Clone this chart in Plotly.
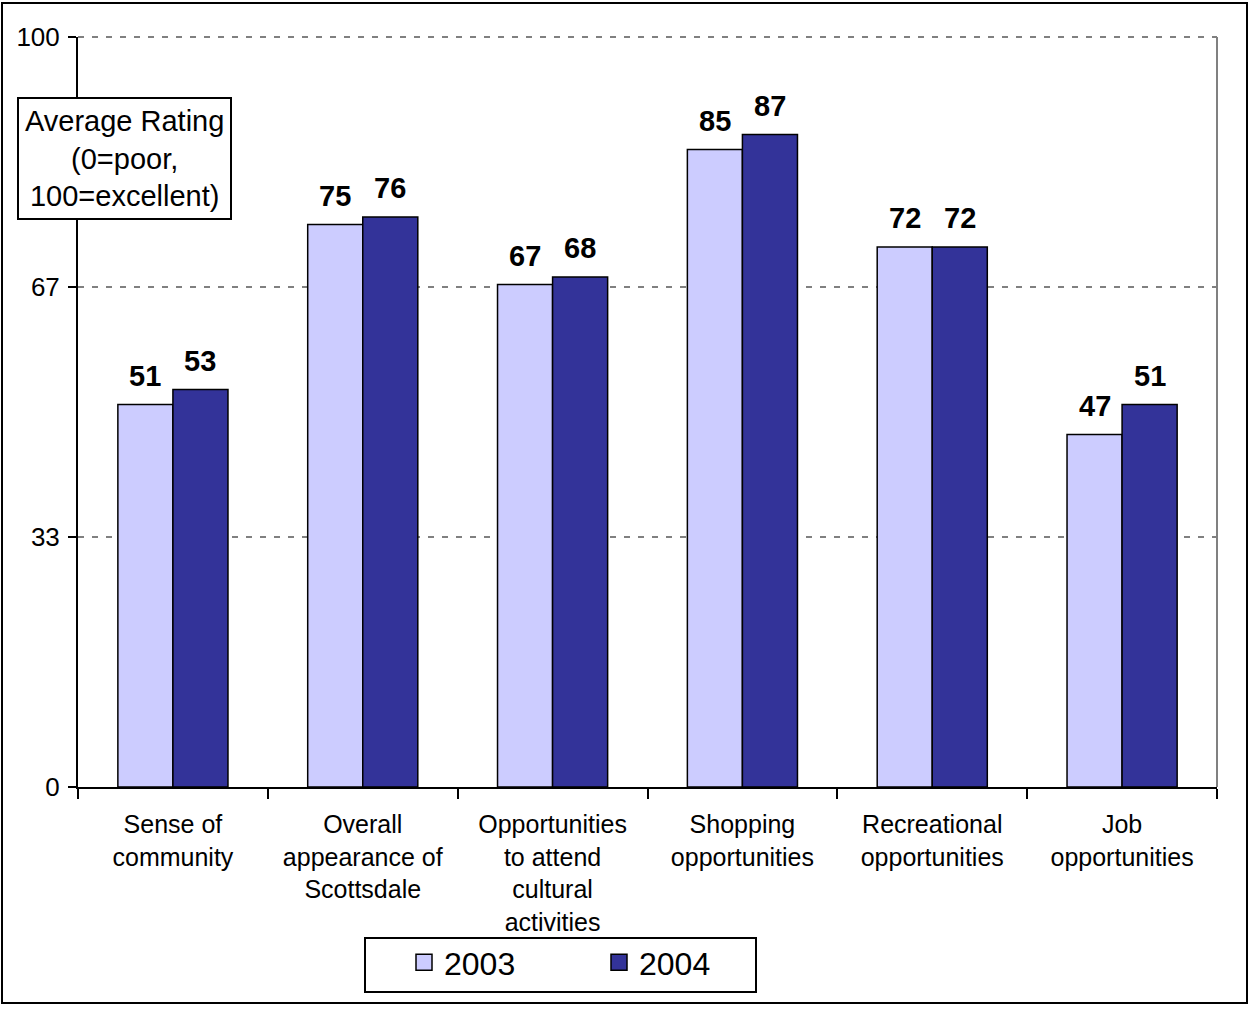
import plotly.graph_objects as go

categories = ["Sense of<br>community", "Overall<br>appearance of<br>Scottsdale",
              "Opportunities<br>to attend<br>cultural<br>activities", "Shopping<br>opportunities",
              "Recreational<br>opportunities", "Job<br>opportunities"]
values_2003 = [51, 75, 67, 85, 72, 47]
values_2004 = [53, 76, 68, 87, 72, 51]
series_names = ["2003", "2004"]
series_colors = ["#CCCCFF", "#333399"]
tick_vals = [0, 33.33, 66.67, 100]
tick_text = ["0", "33", "67", "100"]

FONT = "Liberation Sans, Arial, sans-serif"
W, H = 1249, 1009
L, R, T, B = 78, 32, 37, 222
pw, ph = W - L - R, H - T - B
BARGAP = 0.42
cat_px = pw / len(categories)
bar_px = cat_px * (1 - BARGAP) / 2

def px_x(x):
    return (x - L) / pw

def px_y(y):
    return (H - B - y) / ph

fig = go.Figure()
annotations = []
for k, (name, vals, col) in enumerate(zip(series_names, [values_2003, values_2004], series_colors)):
    fig.add_trace(go.Bar(
        x=categories, y=vals, name=name, showlegend=False, hoverinfo="skip",
        marker=dict(color=col, line=dict(color="black", width=1.5)),
    ))
    shift = (k - 0.5) * bar_px
    for c, v in zip(categories, vals):
        annotations.append(dict(
            x=c, y=v, xref="x", yref="y", text=str(v), showarrow=False,
            xanchor="center", yanchor="bottom", xshift=shift, yshift=11,
            font=dict(family=FONT, size=29, color="black", weight="bold"),
        ))
for name, col in zip(series_names, series_colors):
    fig.add_trace(go.Scatter(
        x=[None], y=[None], mode="markers", name=name,
        marker=dict(symbol="square", size=16, color=col, line=dict(color="black", width=1.5)),
    ))

annotations.append(dict(
    text="Average Rating<br>(0=poor,<br>100=excellent)", xref="paper", yref="paper",
    x=px_x(124.5), y=px_y(159), xanchor="center", yanchor="middle", showarrow=False,
    font=dict(family=FONT, size=29, color="black"),
    bordercolor="black", borderwidth=2, borderpad=6, bgcolor="white"))

fig.update_layout(
    width=W, height=H,
    margin=dict(l=L, r=R, t=T, b=B, autoexpand=False),
    paper_bgcolor="white", plot_bgcolor="white",
    barmode="group", bargap=BARGAP, bargroupgap=0,
    font=dict(family=FONT, color="black"),
    showlegend=True,
    legend=dict(
        orientation="h", x=px_x(404), xanchor="left", y=px_y(935), yanchor="top",
        borderwidth=0, bgcolor="rgba(0,0,0,0)",
        font=dict(family=FONT, size=32, color="black"),
        entrywidth=150, entrywidthmode="pixels", itemwidth=30,
    ),
    xaxis=dict(
        type="category", tickson="boundaries", showline=True, linecolor="black", linewidth=2,
        ticks="outside", ticklen=10, tickwidth=2, tickcolor="black", ticklabelstandoff=14,
        tickfont=dict(family=FONT, size=25, color="black"), showgrid=False,
    ),
    yaxis=dict(
        range=[0, 100], tickvals=tick_vals, ticktext=tick_text,
        showline=True, linecolor="black", linewidth=2,
        ticks="outside", ticklen=8, tickwidth=2, tickcolor="black", ticklabelstandoff=3,
        tickfont=dict(family=FONT, size=26, color="black"),
        showgrid=True, gridcolor="#808080", gridwidth=2, griddash="6px,8px",
        zeroline=False,
    ),
    shapes=[
        dict(type="line", xref="paper", yref="paper", x0=1, x1=1, y0=0, y1=1,
             line=dict(color="#808080", width=2)),
        dict(type="line", xref="paper", yref="paper", x0=0, x1=1, y0=1, y1=1,
             line=dict(color="#808080", width=2, dash="6px,8px")),
        dict(type="rect", xref="paper", yref="paper",
             x0=px_x(2), x1=px_x(1247), y0=px_y(1003), y1=px_y(3),
             line=dict(color="black", width=2), fillcolor="rgba(0,0,0,0)", layer="below"),
        dict(type="rect", xref="paper", yref="paper",
             x0=px_x(365), x1=px_x(756), y0=px_y(992), y1=px_y(938),
             line=dict(color="black", width=2), fillcolor="white", layer="below"),
    ],
    annotations=annotations,
)

fig.write_html("out.html", config={"displayModeBar": False},
               post_script="document.body.style.margin='0px';")
